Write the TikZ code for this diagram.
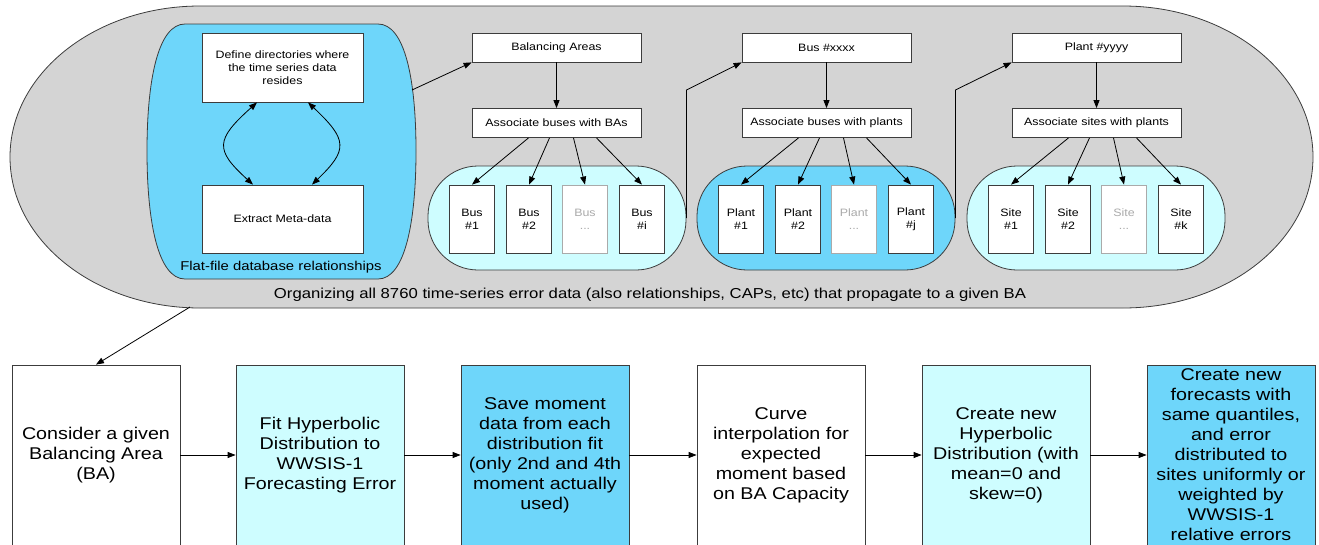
\documentclass[tikz,border=0pt]{standalone}
\usepackage{fontspec}
\setmainfont{Liberation Sans}[FakeStretch=1.16]
\usetikzlibrary{arrows.meta, positioning}
\definecolor{ovalgray}{RGB}{212,212,212}
\definecolor{flatblue}{RGB}{110,214,250}
\definecolor{palecyan}{RGB}{206,253,255}
\definecolor{boxline}{RGB}{60,60,60}
\definecolor{fadegray}{RGB}{170,170,170}
\newcommand{\tinyfont}{\fontsize{10.7}{12.7}\selectfont}
\newcommand{\midfont}{\fontsize{12.8}{15}\selectfont}
\newcommand{\orgfont}{\fontsize{14.4}{16}\selectfont}
\newcommand{\stepfont}{\fontsize{17}{20}\selectfont}

\tikzset{
  smallbox/.style={draw=boxline, line width=0.8pt, fill=white, inner sep=0pt, align=center, font=\tinyfont},
  headbox/.style={smallbox, minimum width=169pt, minimum height=29pt},
  itembox/.style={smallbox, minimum width=45pt, minimum height=68pt},
  fadebox/.style={itembox, draw=fadegray, text=fadegray},
  groupbox/.style={draw=boxline, line width=0.8pt, rounded corners=50pt, minimum width=258pt, minimum height=104pt},
  stepbox/.style={draw=boxline, line width=0.8pt, inner sep=0pt, align=center, font=\stepfont, minimum width=168pt, minimum height=180pt},
  arr/.style={-{Triangle[length=8pt, width=6pt]}, line width=0.8pt},
  dblarr/.style={{Triangle[length=8pt, width=6pt]}-{Triangle[length=8pt, width=6pt]}, line width=0.8pt},
}

\begin{document}
\begin{tikzpicture}[x=1pt, y=1pt]
  \useasboundingbox (0,0) rectangle (1319,-544);
  \clip (0,0) rectangle (1319,-544);

  % Grey outer region
  \draw[boxline, line width=0.8pt, fill=ovalgray] (200,-6) -- (1123,-6)
    arc[start angle=90, end angle=-90, x radius=190pt, y radius=151pt]
    -- (200,-308)
    arc[start angle=270, end angle=90, x radius=190pt, y radius=151pt] -- cycle;
  \node[font=\orgfont] (orglabel) at (650,-295) {Organizing all 8760 time-series error data (also relationships, CAPs, etc) that propagate to a given BA};

  % Flat-file container
  \draw[boxline, line width=0.8pt, fill=flatblue] (185,-24) -- (378,-24)
    .. controls (405,-24) and (416,-80) .. (416,-151)
    .. controls (416,-222) and (405,-279) .. (378,-279) -- (185,-279)
    .. controls (158,-279) and (147,-222) .. (147,-151)
    .. controls (147,-80) and (158,-24) .. (185,-24) -- cycle;
  \node[smallbox, minimum width=161pt, minimum height=69pt] (defdir) at (282.5,-67.5) {Define directories where\\the time series data\\resides};
  \node[smallbox, minimum width=161pt, minimum height=68pt] (extract) at (282.5,-219) {Extract Meta-data};
  \draw[dblarr] ([xshift=-25.5pt]defdir.south) .. controls (215,-140) and (215,-150) .. ([xshift=-29.5pt]extract.north);
  \draw[dblarr] ([xshift=25.5pt]defdir.south) .. controls (348,-140) and (348,-150) .. ([xshift=29.5pt]extract.north);
  \node[font=\midfont] (flatlabel) at (281,-267) {Flat-file database relationships};
  \coordinate (flatout) at (412,-90);

  % Head boxes
  \node[headbox] (headbus) at (556.5,-47.5) {Balancing Areas};
  \node[headbox] (assocbus) at (556.5,-123) {Associate buses with BAs};
  \node[headbox] (headplant) at (826.5,-47.5) {Bus \#xxxx};
  \node[headbox] (assocplant) at (826.5,-123) {Associate buses with plants};
  \node[headbox] (headsite) at (1096.5,-47.5) {Plant \#yyyy};
  \node[headbox] (assocsite) at (1096.5,-123) {Associate sites with plants};

  % Groups
  \node[groupbox, fill=palecyan] (busgrp) at (557,-218) {};
  \node[groupbox, fill=flatblue] (plantgrp) at (826,-218) {};
  \node[groupbox, fill=palecyan] (sitegrp) at (1096,-218) {};

  \foreach \grp/\cx/\word/\last in {bus/557/Bus/i, plant/826/Plant/j, site/1096/Site/k} {
    \node[itembox] (\grp1) at (\cx-85,-219) {\word\\\#1};
    \node[itembox] (\grp2) at (\cx-28,-219) {\word\\\#2};
    \node[fadebox] (\grp3) at (\cx+28,-219) {\word\\...};
    \node[itembox] (\grp4) at (\cx+85,-219) {\word\\\#\last};
    \draw[arr] (head\grp) -- (assoc\grp);
    \foreach \i/\dx in {1/-28, 2/-7, 3/17, 4/40}
      \draw[arr] ([xshift=\dx pt]assoc\grp.south) -- (\grp\i.north);
  }

  % Links between the groups
  \draw[arr] (flatout) -- (headbus.south west);
  \draw[arr] (busgrp.east) -- ++(0,128) -- (headplant.south west);
  \draw[arr] (plantgrp.east) -- ++(0,128) -- (headsite.south west);

  % Bottom row
  \node[stepbox, fill=white] (consider) at (96,-455) {Consider a given\\Balancing Area\\(BA)};
  \node[stepbox, fill=palecyan] (fithyp) at (320,-455) {Fit Hyperbolic\\Distribution to\\WWSIS-1\\Forecasting Error};
  \node[stepbox, fill=flatblue] (savemom) at (545,-455) {Save moment\\data from each\\distribution fit\\(only 2nd and 4th\\moment actually\\used)};
  \node[stepbox, fill=white] (curveint) at (781,-455) {Curve\\interpolation for\\expected\\moment based\\on BA Capacity};
  \node[stepbox, fill=palecyan] (newhyp) at (1006,-455) {Create new\\Hyperbolic\\Distribution (with\\mean=0 and\\skew=0)};
  \node[stepbox, fill=flatblue] (newfc) at (1231,-455) {Create new\\forecasts with\\same quantiles,\\and error\\distributed to\\sites uniformly or\\weighted by\\WWSIS-1\\relative errors};

  \coordinate (ovalout) at (190,-307);
  \draw[arr] (ovalout) -- (consider.north);
  \foreach \a/\b in {consider/fithyp, fithyp/savemom, savemom/curveint, curveint/newhyp, newhyp/newfc}
    \draw[arr] (\a) -- (\b);
\end{tikzpicture}
\end{document}
